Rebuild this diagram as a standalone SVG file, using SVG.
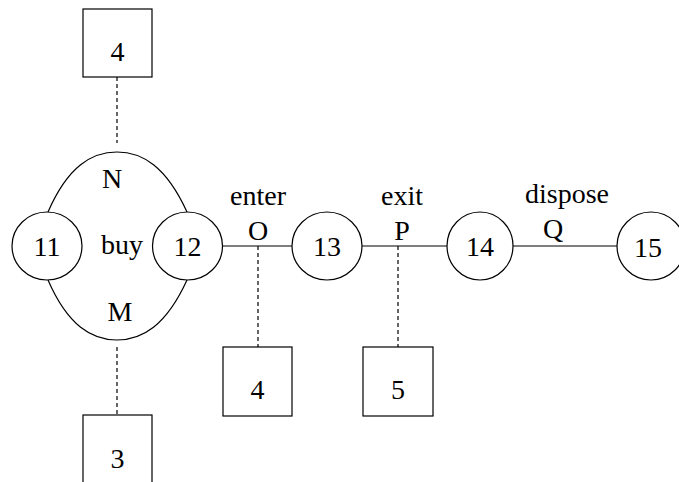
<svg xmlns="http://www.w3.org/2000/svg" width="679" height="482" viewBox="0 0 679 482">
<style>
.n{fill:#fff;stroke:#000;stroke-width:1.2}
.l{fill:none;stroke:#000;stroke-width:1.2}
.d{fill:none;stroke:#000;stroke-width:1.2;stroke-dasharray:4,3}
text{font-family:"Liberation Serif","Times New Roman",serif;font-size:28px;text-anchor:middle;fill:#000}
</style>
<rect width="679" height="482" fill="#fff"/>
<g id="connectors">
<path class="l" d="M48,212 C68,166 92,152 117,152 C142,152 166,166 187,212"/>
<path class="l" d="M48,280 C68,326 92,340 117,340 C142,340 166,326 187,280"/>
<line class="l" x1="222" y1="246" x2="292" y2="246"/>
<line class="l" x1="362" y1="246" x2="448" y2="246"/>
<line class="l" x1="513" y1="246" x2="617" y2="246"/>
<line class="d" x1="117" y1="77" x2="117" y2="143"/>
<line class="d" x1="117" y1="347" x2="117" y2="414"/>
<line class="d" x1="258" y1="246" x2="258" y2="347"/>
<line class="d" x1="398" y1="246" x2="398" y2="347"/>
<text x="112" y="188">N</text>
<text x="120" y="321">M</text>
<text x="122" y="254">buy</text>
<text x="258" y="205">enter</text>
<text x="258" y="240">O</text>
<text x="402" y="205">exit</text>
<text x="402" y="240">P</text>
<text x="567" y="203">dispose</text>
<text x="553" y="238">Q</text>
</g>
<g id="n11"><ellipse class="n" cx="47" cy="246" rx="35" ry="34"/><text x="47" y="256">11</text></g>
<g id="n12"><ellipse class="n" cx="187.5" cy="246" rx="35" ry="34"/><text x="187.5" y="256">12</text></g>
<g id="n13"><ellipse class="n" cx="327" cy="246" rx="35" ry="34"/><text x="327" y="256">13</text></g>
<g id="n14"><ellipse class="n" cx="480" cy="246" rx="33" ry="34"/><text x="480" y="256">14</text></g>
<g id="n15"><ellipse class="n" cx="651" cy="246" rx="34" ry="34"/><text x="648" y="257">15</text></g>
<g id="b4top"><rect class="n" x="83" y="9" width="69" height="68"/><text x="117.5" y="61">4</text></g>
<g id="b3"><rect class="n" x="83" y="415" width="69" height="80"/><text x="117.5" y="468">3</text></g>
<g id="b4"><rect class="n" x="223" y="347" width="69" height="69"/><text x="257.5" y="399">4</text></g>
<g id="b5"><rect class="n" x="363" y="347" width="70" height="69"/><text x="398" y="399">5</text></g>
</svg>
